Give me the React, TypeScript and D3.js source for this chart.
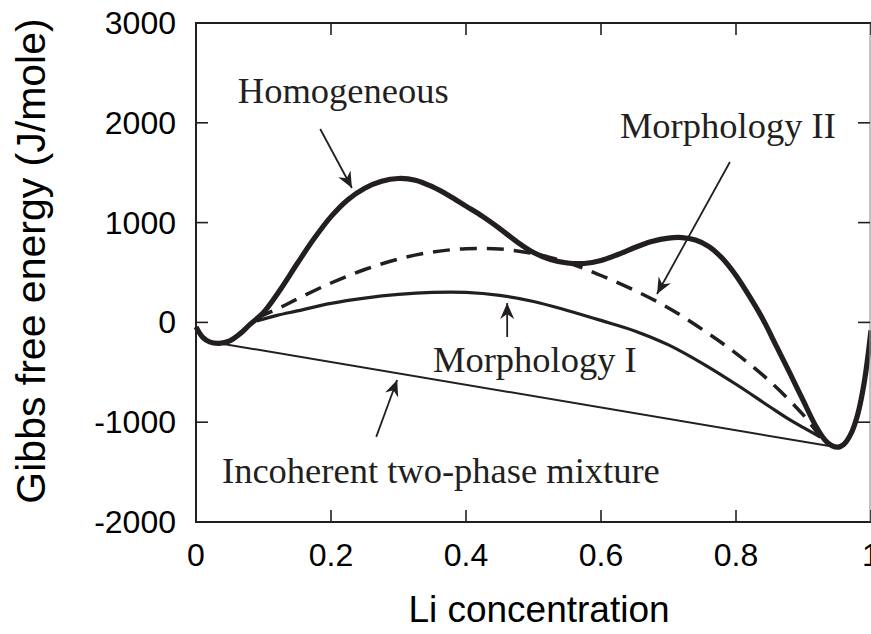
import React from "react";
import * as d3 from "d3";

// ---- data ----
const homogeneousX = [0, 0.01, 0.02, 0.034, 0.05, 0.065, 0.08, 0.1, 0.125, 0.15, 0.175, 0.2, 0.225, 0.25, 0.275, 0.3, 0.325, 0.35, 0.375, 0.4, 0.425, 0.45, 0.475, 0.5, 0.525, 0.55, 0.575, 0.6, 0.625, 0.65, 0.675, 0.7, 0.72, 0.74, 0.76, 0.78, 0.8, 0.82, 0.84, 0.86, 0.88, 0.9, 0.92, 0.935, 0.95, 0.96, 0.97, 0.98, 0.99, 1.0];
const homogeneousY = [-45, -150, -195, -210, -185, -115, -20, 100, 330, 590, 840, 1060, 1230, 1345, 1415, 1442, 1425, 1360, 1270, 1165, 1060, 940, 810, 700, 630, 595, 590, 620, 680, 750, 810, 845, 850, 825, 760, 640, 470, 260, 30, -240, -510, -790, -1060, -1200, -1250, -1220, -1120, -930, -600, -80];

const morph2X = [0.09, 0.125, 0.15, 0.2, 0.25, 0.3, 0.35, 0.4, 0.45, 0.5, 0.55, 0.6, 0.65, 0.7, 0.75, 0.8, 0.85, 0.9, 0.925];
const morph2Y = [45, 150, 235, 395, 530, 635, 705, 738, 735, 690, 600, 470, 320, 145, -70, -310, -590, -930, -1150];

const morph1X = [0.09, 0.12, 0.15, 0.2, 0.25, 0.3, 0.35, 0.4, 0.45, 0.5, 0.55, 0.6, 0.65, 0.7, 0.75, 0.8, 0.85, 0.88, 0.9, 0.925];
const morph1Y = [15, 70, 115, 190, 243, 280, 300, 300, 270, 210, 120, 20, -85, -225, -410, -620, -845, -977, -1055, -1150];

const tangentX = [0.034, 0.945];
const tangentY = [-208, -1246];

const xTicks = [0, 0.2, 0.4, 0.6, 0.8, 1];
const yTicks = [-2000, -1000, 0, 1000, 2000, 3000];

const labelTexts = ["Homogeneous", "Morphology II", "Morphology I", "Incoherent two-phase mixture"];
const labelX = [0.062, 0.628, 0.351, 0.0385];
const labelY = [2198, 1847, -497, -1607];
const arrowFromX = [0.184, 0.791, 0.461, 0.267];
const arrowFromY = [1938, 1607, -146, -1147];
const arrowToX = [0.231, 0.683, 0.461, 0.298];
const arrowToY = [1347, 285, 194, -577];

const xTitle = "Li concentration";
const yTitle = "Gibbs free energy (J/mole)";

export default function App() {
  const W = 871, H = 634;
  const x = d3.scaleLinear().domain([0, 1]).range([196, 871]);
  const y = d3.scaleLinear().domain([-2000, 3000]).range([522, 23]);
  const ink = "#231f20";

  const line = d3
    .line<[number, number]>()
    .x((d) => x(d[0]))
    .y((d) => y(d[1]))
    .curve(d3.curveCatmullRom.alpha(0.5));
  const straight = d3
    .line<[number, number]>()
    .x((d) => x(d[0]))
    .y((d) => y(d[1]));

  const zip = (a: number[], b: number[]) => a.map((v, i) => [v, b[i]] as [number, number]);

  const tickLen = 12;
  const left = x(0), right = 870, top = y(3000), bottom = y(-2000);

  return (
    <svg width={W} height={H} style={{ position: "absolute", left: 0, top: 0, background: "#fff" }}>
      <defs>
        <marker id="ah" markerUnits="userSpaceOnUse" markerWidth="20" markerHeight="20" viewBox="-18 -9 20 18" refX="0" refY="0" orient="auto">
          <path d="M0,0 L-16,-7 L-11,0 L-16,7 Z" fill={ink} />
        </marker>
      </defs>
      <rect x={0} y={0} width={W} height={H} fill="#fff" />

      {/* curves */}
      <path d={straight(zip(tangentX, tangentY)) || ""} fill="none" stroke={ink} strokeWidth={2} />
      <path d={line(zip(morph1X, morph1Y)) || ""} fill="none" stroke={ink} strokeWidth={3.2} />
      <path d={line(zip(morph2X, morph2Y)) || ""} fill="none" stroke={ink} strokeWidth={3.5} strokeDasharray="17,10" />
      <path d={line(zip(homogeneousX, homogeneousY)) || ""} fill="none" stroke={ink} strokeWidth={5.2} strokeLinejoin="round" />

      {/* frame */}
      <line x1={left} x2={left} y1={top - 1} y2={bottom + 1} stroke={ink} strokeWidth={2} />
      <line x1={left} x2={right + 1} y1={bottom} y2={bottom} stroke={ink} strokeWidth={2} />
      <line x1={left} x2={right + 1} y1={top} y2={top} stroke={ink} strokeWidth={2} />
      <line x1={right} x2={right} y1={top} y2={bottom} stroke="#9a9a9a" strokeWidth={1.2} />

      {xTicks.map((t) => (
        <g key={"xt" + t}>
          <line x1={x(t)} x2={x(t)} y1={bottom} y2={bottom - tickLen} stroke={ink} strokeWidth={1.6} />
          <line x1={x(t)} x2={x(t)} y1={top} y2={top + tickLen} stroke={ink} strokeWidth={1.6} />
          <text x={x(t)} y={566} textAnchor="middle" fontFamily="Liberation Sans, Arial, sans-serif" fontSize={32} fill="#000">
            {t === 0 || t === 1 ? String(t) : d3.format(".1f")(t)}
          </text>
        </g>
      ))}
      {yTicks.map((t) => (
        <g key={"yt" + t}>
          <line x1={left} x2={left + tickLen} y1={y(t)} y2={y(t)} stroke={ink} strokeWidth={1.6} />
          <line x1={right} x2={right - tickLen} y1={y(t)} y2={y(t)} stroke={ink} strokeWidth={1.6} />
          <text x={176} y={y(t) + 11} textAnchor="end" fontFamily="Liberation Sans, Arial, sans-serif" fontSize={32} fill="#000">
            {t}
          </text>
        </g>
      ))}

      <text x={(left + right) / 2 + 6} y={622} textAnchor="middle" fontFamily="Liberation Sans, Arial, sans-serif" fontSize={37} fill="#000">
        {xTitle}
      </text>
      <text transform={`translate(45, 261) rotate(-90)`} textAnchor="middle" fontFamily="Liberation Sans, Arial, sans-serif" fontSize={41} fill="#000">
        {yTitle}
      </text>

      {/* annotations */}
      {labelTexts.map((s, i) => (
        <g key={s}>
          <text x={x(labelX[i])} y={y(labelY[i])} fontFamily="Liberation Serif, Times New Roman, serif" fontSize={36.5} fill={ink}>
            {s}
          </text>
          <line
            x1={x(arrowFromX[i])}
            y1={y(arrowFromY[i])}
            x2={x(arrowToX[i])}
            y2={y(arrowToY[i])}
            stroke={ink}
            strokeWidth={1.8}
            markerEnd="url(#ah)"
          />
        </g>
      ))}
    </svg>
  );
}
